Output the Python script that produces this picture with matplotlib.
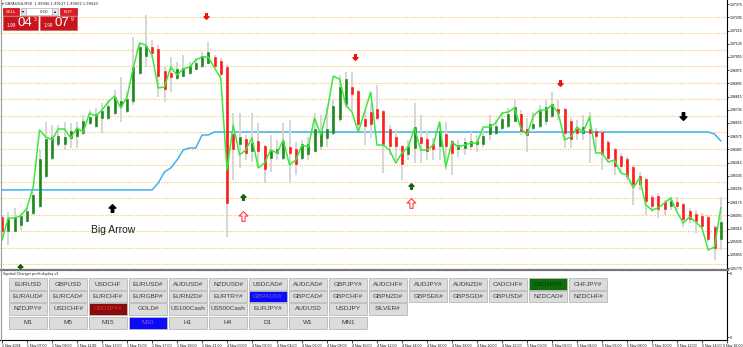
import numpy as np
import matplotlib
matplotlib.use("Agg")
import matplotlib.pyplot as plt
from matplotlib.patches import Rectangle
from matplotlib.path import Path

plt.rcParams['font.family'] = ['Liberation Sans', 'DejaVu Sans']

# ---- price data (GBPAUD#, M30) ----
opens = [
    1.96079, 1.96006, 1.96006, 1.96043, 1.96067, 1.96115, 1.96158, 1.96339, 1.96449, 1.96533,
    1.96533, 1.96570, 1.96582, 1.96600, 1.96661, 1.96642, 1.96691, 1.96691, 1.96721, 1.96764,
    1.96733, 1.96794, 1.96964, 1.97067, 1.97109, 1.97097, 1.96964, 1.96952, 1.96933, 1.96945,
    1.96964, 1.96988, 1.97006, 1.97024, 1.97049, 1.97024, 1.96988, 1.96582, 1.96533, 1.96552,
    1.96491, 1.96539, 1.96509, 1.96449, 1.96479, 1.96449, 1.96503, 1.96491, 1.96449, 1.96473,
    1.96491, 1.96521, 1.96570, 1.96600, 1.96685, 1.96776, 1.96867, 1.96842, 1.96673, 1.96715,
    1.96733, 1.96721, 1.96612, 1.96564, 1.96509, 1.96473, 1.96509, 1.96564, 1.96552, 1.96521,
    1.96521, 1.96582, 1.96539, 1.96503, 1.96509, 1.96521, 1.96533, 1.96533, 1.96594, 1.96600,
    1.96630, 1.96642, 1.96673, 1.96703, 1.96612, 1.96630, 1.96642, 1.96673, 1.96703, 1.96733,
    1.96733, 1.96661, 1.96612, 1.96600, 1.96612, 1.96600, 1.96594, 1.96533, 1.96491, 1.96449,
    1.96430, 1.96382, 1.96327, 1.96309, 1.96200, 1.96206, 1.96170, 1.96158, 1.96170, 1.96158,
    1.96115, 1.96097, 1.96085, 1.96079, 1.96018, 1.95958]
closes = [
    1.96006, 1.96067, 1.96079, 1.96085, 1.96115, 1.96212, 1.96430, 1.96552, 1.96564, 1.96570,
    1.96564, 1.96600, 1.96612, 1.96661, 1.96685, 1.96703, 1.96721, 1.96752, 1.96806, 1.96782,
    1.96794, 1.96988, 1.97109, 1.97115, 1.97085, 1.96945, 1.96867, 1.96939, 1.96976, 1.96982,
    1.96994, 1.97012, 1.97055, 1.97079, 1.97006, 1.96958, 1.96176, 1.96503, 1.96564, 1.96479,
    1.96527, 1.96491, 1.96382, 1.96479, 1.96491, 1.96539, 1.96479, 1.96412, 1.96521, 1.96521,
    1.96612, 1.96600, 1.96612, 1.96752, 1.96867, 1.96915, 1.96836, 1.96655, 1.96642, 1.96655,
    1.96691, 1.96533, 1.96521, 1.96521, 1.96412, 1.96509, 1.96624, 1.96539, 1.96491, 1.96503,
    1.96600, 1.96521, 1.96479, 1.96515, 1.96533, 1.96539, 1.96539, 1.96570, 1.96642, 1.96630,
    1.96673, 1.96703, 1.96746, 1.96612, 1.96588, 1.96642, 1.96721, 1.96746, 1.96764, 1.96721,
    1.96600, 1.96564, 1.96600, 1.96624, 1.96600, 1.96582, 1.96473, 1.96449, 1.96400, 1.96400,
    1.96339, 1.96291, 1.96291, 1.96188, 1.96158, 1.96140, 1.96140, 1.96176, 1.96158, 1.96079,
    1.96079, 1.96067, 1.96036, 1.95958, 1.95903, 1.96049]
highs = [
    1.96097, 1.96115, 1.96140, 1.96109, 1.96140, 1.96236, 1.96491, 1.96661, 1.96642, 1.96642,
    1.96661, 1.96655, 1.96661, 1.96703, 1.96733, 1.96746, 1.96776, 1.96794, 1.96855, 1.96933,
    1.96842, 1.97176, 1.97145, 1.97309, 1.97158, 1.97127, 1.96994, 1.97055, 1.97024, 1.97067,
    1.97024, 1.97049, 1.97085, 1.97145, 1.97067, 1.97049, 1.97006, 1.96715, 1.96715, 1.96582,
    1.96715, 1.96655, 1.96521, 1.96582, 1.96552, 1.96655, 1.96673, 1.96539, 1.96552, 1.96570,
    1.96715, 1.96703, 1.96752, 1.96794, 1.96945, 1.96964, 1.96964, 1.96855, 1.96733, 1.96776,
    1.96885, 1.96733, 1.96642, 1.96612, 1.96521, 1.96552, 1.96776, 1.96703, 1.96612, 1.96564,
    1.96661, 1.96661, 1.96552, 1.96552, 1.96564, 1.96600, 1.96582, 1.96624, 1.96703, 1.96673,
    1.96715, 1.96746, 1.96794, 1.96733, 1.96685, 1.96721, 1.96764, 1.96794, 1.96842, 1.96794,
    1.96746, 1.96685, 1.96673, 1.96703, 1.96721, 1.96624, 1.96612, 1.96552, 1.96503, 1.96473,
    1.96449, 1.96400, 1.96358, 1.96321, 1.96218, 1.96230, 1.96188, 1.96206, 1.96206, 1.96170,
    1.96140, 1.96127, 1.96109, 1.96097, 1.96036, 1.96206]
lows = [
    1.95946, 1.95915, 1.95994, 1.96006, 1.96055, 1.96097, 1.96140, 1.96321, 1.96430, 1.96509,
    1.96491, 1.96503, 1.96503, 1.96582, 1.96642, 1.96624, 1.96594, 1.96673, 1.96703, 1.96661,
    1.96715, 1.96764, 1.96945, 1.96994, 1.97049, 1.96812, 1.96782, 1.96842, 1.96915, 1.96933,
    1.96945, 1.96976, 1.96988, 1.97012, 1.96988, 1.96939, 1.95964, 1.96309, 1.96382, 1.96430,
    1.96418, 1.96388, 1.96291, 1.96358, 1.96430, 1.96430, 1.96291, 1.96339, 1.96430, 1.96430,
    1.96479, 1.96491, 1.96509, 1.96582, 1.96661, 1.96746, 1.96733, 1.96624, 1.96521, 1.96564,
    1.96673, 1.96352, 1.96461, 1.96430, 1.96309, 1.96430, 1.96412, 1.96412, 1.96430, 1.96430,
    1.96430, 1.96370, 1.96339, 1.96449, 1.96461, 1.96491, 1.96479, 1.96509, 1.96552, 1.96582,
    1.96612, 1.96624, 1.96661, 1.96582, 1.96479, 1.96600, 1.96624, 1.96642, 1.96685, 1.96673,
    1.96503, 1.96503, 1.96552, 1.96552, 1.96412, 1.96491, 1.96370, 1.96418, 1.96339, 1.96358,
    1.96309, 1.96158, 1.96249, 1.96097, 1.96115, 1.96079, 1.96097, 1.96127, 1.96127, 1.96024,
    1.96049, 1.95988, 1.96006, 1.95933, 1.95824, 1.95885]

# bright green indicator line
line_vals = [
    1.95946, 1.96079, 1.96079, 1.96091, 1.96140, 1.96267, 1.96612, 1.96570, 1.96552, 1.96618,
    1.96618, 1.96564, 1.96624, 1.96600, 1.96715, 1.96697, 1.96733, 1.96782, 1.96818, 1.96746,
    1.96812, 1.96988, 1.97139, 1.97127, 1.97067, 1.96867, 1.96873, 1.96994, 1.96945, 1.96982,
    1.96994, 1.97036, 1.97055, 1.97055, 1.96988, 1.96927, 1.96370, 1.96642, 1.96461, 1.96491,
    1.96564, 1.96382, 1.96412, 1.96491, 1.96473, 1.96552, 1.96400, 1.96430, 1.96521, 1.96509,
    1.96685, 1.96582, 1.96721, 1.96939, 1.96921, 1.96764, 1.96721, 1.96600, 1.96721, 1.96842,
    1.96521, 1.96521, 1.96491, 1.96412, 1.96473, 1.96509, 1.96624, 1.96491, 1.96491, 1.96521,
    1.96661, 1.96388, 1.96539, 1.96509, 1.96521, 1.96533, 1.96533, 1.96630, 1.96630, 1.96655,
    1.96715, 1.96721, 1.96746, 1.96624, 1.96582, 1.96697, 1.96733, 1.96733, 1.96764, 1.96715,
    1.96552, 1.96570, 1.96630, 1.96600, 1.96691, 1.96473, 1.96473, 1.96418, 1.96430, 1.96352,
    1.96339, 1.96261, 1.96321, 1.96158, 1.96127, 1.96140, 1.96170, 1.96200, 1.96115, 1.96049,
    1.96085, 1.96055, 1.96018, 1.95885, 1.95903, 1.96140]

# light blue indicator line
blue_vals = ([1.96249] * 25
             + [1.96291, 1.96358, 1.96382, 1.96430, 1.96491, 1.96503, 1.96503, 1.96582, 1.96582]
             + [1.96600] * 80
             + [1.96588, 1.96546])

# signal arrows (bar index, price)
sell_bars, sell_prices = [32.6, 56.5, 89.3], [1.97303, 1.97055, 1.96896]
buy_bars, buy_prices = [2.9, 38.6, 65.4], [1.95784, 1.96206, 1.96270]
hollow_bars, hollow_prices = [38.6, 65.4], [1.96091, 1.96170]
big_up_bar, big_up_price = 17.55, 1.96138
big_dn_bar, big_dn_price = 109.0, 1.96694
big_text_bar, big_text_price = 17.7, 1.96006

grid_levels = [1.973, 1.972, 1.971, 1.970, 1.969, 1.968, 1.967, 1.966,
               1.965, 1.964, 1.963, 1.962, 1.961, 1.960, 1.959, 1.958]
price_ticks = [1.97375, 1.97295, 1.97215, 1.97135, 1.97055, 1.96975, 1.96895,
               1.96815, 1.96735, 1.96655, 1.96575, 1.96495, 1.96415, 1.96335,
               1.96255, 1.96175, 1.96095, 1.96015, 1.95935, 1.95855, 1.95775]
time_labels = ["1 Nov 2024", "1 Nov 07:00", "1 Nov 09:00", "1 Nov 11:00", "1 Nov 13:00",
               "1 Nov 15:00", "1 Nov 17:00", "1 Nov 19:00", "1 Nov 21:00", "4 Nov 00:00",
               "4 Nov 02:00", "4 Nov 04:00", "4 Nov 06:00", "4 Nov 08:00", "4 Nov 10:00",
               "4 Nov 12:00", "4 Nov 14:00", "4 Nov 16:00", "4 Nov 18:00", "4 Nov 20:00",
               "4 Nov 22:00", "5 Nov 00:00", "5 Nov 02:00", "5 Nov 04:00", "5 Nov 06:00",
               "5 Nov 08:00", "5 Nov 10:00", "5 Nov 12:00", "5 Nov 14:00", "5 Nov 16:00"]

# symbol changer buttons
row1 = ["EURUSD", "GBPUSD", "USDCHF", "EURUSD#", "AUDUSD#", "NZDUSD#", "USDCAD#", "AUDCAD#",
        "GBPJPY#", "AUDCHF#", "AUDJPY#", "AUDNZD#", "CADCHF#", "CADJPY#", "CHFJPY#"]
row2 = ["EURAUD#", "EURCAD#", "EURCHF#", "EURGBP#", "EURNZD#", "EURTRY#", "GBPAUD#", "GBPCAD#",
        "GBPCHF#", "GBPNZD#", "GBPSEK#", "GBPSGD#", "GBPUSD#", "NZDCAD#", "NZDCHF#"]
row3 = ["NZDJPY#", "USDCHF#", "USDJPY#", "GOLD#", "US100Cash", "US500Cash", "EURJPY#",
        "AUDUSD", "USDJPY", "SILVER#"]
timeframes = ["M1", "M5", "M15", "M30", "H1", "H4", "D1", "W1", "MN1"]
highlight = {"CADJPY#": ('#0b6e0b', '#003a00'), "GBPAUD#": ('#0a0aff', '#8a5ac8'),
             "USDJPY#": ('#8c0a0a', '#d83a3a'), "M30": ('#0a0aff', '#8a5ac8')}

W, H = 743, 347
fig = plt.figure(figsize=(W / 100, H / 100), dpi=100)


def px_rect(x0, y0, x1, y1):
    return [x0 / W, 1 - y1 / H, (x1 - x0) / W, (y1 - y0) / H]


ax = fig.add_axes(px_rect(0, 0, 727, 269.5))
sub = fig.add_axes(px_rect(0, 271, 727, 340))
ui = fig.add_axes([0, 0, 1, 1], zorder=5)
ui.set_xlim(0, W)
ui.set_ylim(H, 0)
ui.axis('off')
ui.patch.set_alpha(0)

bars = np.arange(len(closes))
ax.set_xlim(-0.32, 116.0)
ax.set_ylim(1.957667, 1.974)

for lv in grid_levels:
    ax.axhline(lv, color='#f6c25e', lw=0.8, ls=(0, (1, 1.3)), zorder=1)
ax.plot(bars, blue_vals, color='#3ab4ee', lw=1.1, zorder=2)
ax.vlines(bars, lows, highs, color='#d6d6d6', lw=1.4, zorder=3)
body_cols = ['#1e8a1e' if c >= o else '#ff1c1c' for o, c in zip(opens, closes)]
ax.vlines(bars, opens, closes, colors=body_cols, lw=1.9, zorder=4, capstyle='projecting')
ax.plot(bars, line_vals, color='#3de63d', lw=1.1, zorder=5)

# arrow markers
up_arrow = Path([(0, 1), (-0.9, 0.1), (-0.32, 0.1), (-0.32, -1), (0.32, -1), (0.32, 0.1),
                 (0.9, 0.1), (0, 1)],
                [Path.MOVETO] + [Path.LINETO] * 6 + [Path.CLOSEPOLY])
down_arrow = Path(up_arrow.vertices * [1, -1], up_arrow.codes)
ax.plot(sell_bars, sell_prices, ls='none', marker=down_arrow, ms=4, color='#ee1111', zorder=6)
ax.plot(buy_bars, buy_prices, ls='none', marker=up_arrow, ms=4, color='#126612', zorder=6)
ax.plot(hollow_bars, hollow_prices, ls='none', marker=up_arrow, ms=7, mfc='white',
        mec='#ff3b3b', mew=0.8, zorder=6)
ax.plot([big_up_bar], [big_up_price], ls='none', marker=up_arrow, ms=5.5, color='black', zorder=6)
ax.plot([big_dn_bar], [big_dn_price], ls='none', marker=down_arrow, ms=5.5, color='black', zorder=6)
ax.text(big_text_bar, big_text_price, 'Big Arrow', fontsize=7.5, color='#1e1e1e',
        ha='center', va='center', zorder=6)

ax.yaxis.tick_right()
ax.set_yticks(price_ticks)
ax.set_yticklabels([f'{v:.5f}' for v in price_ticks])
ax.tick_params(axis='y', labelsize=2.55, length=1.5, width=0.5, pad=0.6)
ax.set_xticks([])
for s in ['top', 'bottom', 'left']:
    ax.spines[s].set_visible(False)
ax.spines['right'].set_linewidth(0.8)

# sub window + time axis
sub.set_xlim(-0.32, 116.0)
sub.set_ylim(0, 1)
tick_bars = list(range(0, 4 * len(time_labels), 4))
sub.set_xticks(tick_bars)
sub.set_xticklabels(time_labels[:-1] + [''], ha='left', fontsize=2.65)
sub.tick_params(axis='x', length=2, width=0.5, pad=0.8)
sub.yaxis.tick_right()
sub.set_yticks([0.04, 0.97])
sub.set_yticklabels(['0', '0'], fontsize=2.6)
sub.tick_params(axis='y', length=1.5, width=0.5, pad=0.6)
sub.spines['top'].set_visible(False)
sub.spines['left'].set_visible(False)
sub.spines['right'].set_linewidth(0.8)
sub.spines['bottom'].set_linewidth(0.8)
# last time label sits at the right edge, keep it inside the window
ui.text(742.5, 343.9, time_labels[-1], fontsize=2.65, ha='right', va='top')

# window frame pieces
ui.plot([0, 727.5], [270, 270], color='#777777', lw=1.6)
ui.plot([0.6, 0.6], [0, 340], color='#9a9a9a', lw=0.8)
ui.text(3, 273.6, 'Symbol Changer profit display v3', fontsize=2.7, va='center', color='#222222')

# buttons
row_tops = [278, 290.5, 303, 317]
for r, labels in enumerate([row1, row2, row3, timeframes]):
    for c, lab in enumerate(labels):
        x0 = 9 + 40 * c
        fc, tc = highlight.get(lab, ('#dcdcdc', '#3a3a3a'))
        ui.add_patch(Rectangle((x0, row_tops[r]), 38, 11.5, facecolor=fc,
                               edgecolor='#b8b8b8', lw=0.6))
        ui.text(x0 + 19, row_tops[r] + 6, lab, fontsize=4.6, color=tc,
                ha='center', va='center')

# one-click trading panel
ui.text(2.5, 4, '\u25be GBPAUD#,M30  1.99006 1.99127 1.99002 1.99043', fontsize=2.6,
        va='center', color='#222222', family=['DejaVu Sans'])
ui.add_patch(Rectangle((2.8, 8), 16.5, 7, facecolor='#dc1e24', edgecolor='#b01018', lw=0.5))
ui.text(11, 11.6, 'SELL', fontsize=3.1, color='white', ha='center', va='center')
ui.add_patch(Rectangle((20.5, 8), 5.5, 7, facecolor='#e4e4e4', edgecolor='#b0b0b0', lw=0.5))
ui.text(23.2, 11.5, '\u25be', fontsize=3, ha='center', va='center', family=['DejaVu Sans'])
ui.add_patch(Rectangle((26, 8), 26, 7, facecolor='white', edgecolor='#b0b0b0', lw=0.5))
ui.text(44, 11.6, '0.10', fontsize=3.2, ha='center', va='center', color='#222222')
ui.add_patch(Rectangle((52, 8), 5.5, 7, facecolor='#e4e4e4', edgecolor='#b0b0b0', lw=0.5))
ui.text(54.7, 11.5, '\u25b4', fontsize=3, ha='center', va='center', family=['DejaVu Sans'])
ui.add_patch(Rectangle((59.5, 8), 17.5, 7, facecolor='#dc1e24', edgecolor='#b01018', lw=0.5))
ui.text(68.2, 11.6, 'BUY', fontsize=3.1, color='white', ha='center', va='center')

for x0, w, big, sup in [(2.8, 35.5, '04', '3'), (39.8, 37.2, '07', '9')]:
    ui.add_patch(Rectangle((x0, 16.2), w, 13.6, facecolor='#c8141c', edgecolor='#e05a5a', lw=0.5))
    ui.text(x0 + 4, 25, '1.99', fontsize=3.4, color='white', va='center')
    ui.text(x0 + 15, 23.3, big, fontsize=9.5, color='white', va='center')
    ui.text(x0 + 30.5, 19.6, sup, fontsize=3.6, color='white', va='center')

fig.savefig('out.png', dpi=100)
